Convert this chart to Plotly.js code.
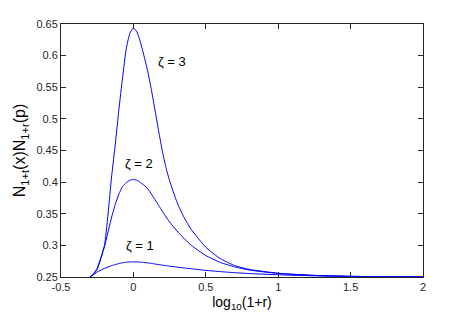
<!DOCTYPE html>
<html>
<head>
<meta charset="utf-8">
<script src="https://cdn.plot.ly/plotly-3.0.1.min.js"></script>
<style>
  html, body { margin: 0; padding: 0; background: #fff; }
  #chart { width: 468px; height: 312px; }
</style>
</head>
<body>
<div id="chart"></div>
<script>
// ── Data ─────────────────────────────────────────────────────────────────

const logR = [-0.301, -0.28, -0.25, -0.2, -0.15, -0.125, -0.1, -0.075, -0.05, -0.025, 0,
  0.025, 0.05, 0.075, 0.1, 0.125, 0.15, 0.175, 0.2, 0.225, 0.25, 0.3, 0.35, 0.4, 0.5, 0.6, 0.7, 0.8, 1.0, 1.25, 1.5, 1.75, 2.0];

const zeta3 = [0.25, 0.254, 0.264, 0.30, 0.41, 0.46, 0.515, 0.565, 0.61, 0.635, 0.644,
  0.637, 0.62, 0.598, 0.574, 0.545, 0.513, 0.48, 0.449, 0.423, 0.402, 0.369, 0.344, 0.325, 0.297, 0.279, 0.268, 0.262, 0.256, 0.2525, 0.251, 0.2505, 0.2502];

const zeta2 = [0.25, 0.253, 0.262, 0.298, 0.345, 0.365, 0.381, 0.393, 0.399, 0.403, 0.404,
  0.403, 0.399, 0.395, 0.389, 0.381, 0.372, 0.363, 0.354, 0.345, 0.337, 0.323, 0.311, 0.300, 0.284, 0.273, 0.266, 0.261, 0.2555, 0.2525, 0.251, 0.2505, 0.2502];

const zeta1 = [0.25, 0.253, 0.258, 0.2635, 0.268, 0.2697, 0.2713, 0.2725, 0.2733, 0.2738, 0.274,
  0.2738, 0.2735, 0.2729, 0.2722, 0.2714, 0.2705, 0.2696, 0.2688, 0.268, 0.2672, 0.2657, 0.2643, 0.263, 0.2605, 0.2585, 0.2568, 0.2555, 0.2535, 0.2518, 0.251, 0.2505, 0.2502];

const xTicks = [-0.5, 0, 0.5, 1, 1.5, 2];
const xTickText = ['-0.5', '0', '0.5', '1', '1.5', '2'];
const yTicks = [0.25, 0.3, 0.35, 0.4, 0.45, 0.5, 0.55, 0.6, 0.65];
const yTickText = ['0.25', '0.3', '0.35', '0.4', '0.45', '0.5', '0.55', '0.6', '0.65'];

const labels = ['\u03b6 = 1', '\u03b6 = 2', '\u03b6 = 3'];
const labelX = [-0.065, -0.074, 0.155];
const labelY = [0.300, 0.430, 0.591];

// ── Chart ────────────────────────────────────────────────────────────────

const FONT = 'Liberation Sans, Arial, Helvetica, sans-serif';
const AXIS = {
  showgrid: false, zeroline: false,
  showline: true, linecolor: '#262626', linewidth: 1, mirror: 'ticks',
  ticks: 'inside', ticklen: 5, tickcolor: '#262626', tickwidth: 1,
  tickfont: { family: FONT, size: 11, color: '#262626' },
};

const traces = [zeta1, zeta2, zeta3].map((ys, i) => ({
  x: logR, y: ys,
  type: 'scatter', mode: 'lines',
  line: { color: '#0000ff', width: 1, shape: 'spline', smoothing: 0.5 },
  name: labels[i],
}));

const layout = {
  width: 468, height: 312,
  margin: { l: 61, r: 45, t: 24, b: 35 },
  paper_bgcolor: '#fff', plot_bgcolor: '#fff',
  showlegend: false,
  xaxis: {
    ...AXIS, range: [-0.5, 2],
    tickvals: xTicks, ticktext: xTickText,
    title: { text: 'log<sub>10</sub>(1+r)', font: { family: FONT, size: 14, color: '#000' }, standoff: 5 },
  },
  yaxis: {
    ...AXIS, range: [0.25, 0.65],
    tickvals: yTicks, ticktext: yTickText,
    title: { text: 'N<sub>1+t</sub>(x)N<sub>1+r</sub>(p)', font: { family: FONT, size: 16, color: '#000' }, standoff: 6 },
  },
  annotations: labels.map((t, i) => ({
    x: labelX[i], y: labelY[i], text: t,
    xanchor: 'left', yanchor: 'middle', showarrow: false,
    font: { family: FONT, size: 13, color: '#000' },
  })),
};

Plotly.newPlot('chart', traces, layout, { staticPlot: true, displayModeBar: false });
</script>
</body>
</html>
